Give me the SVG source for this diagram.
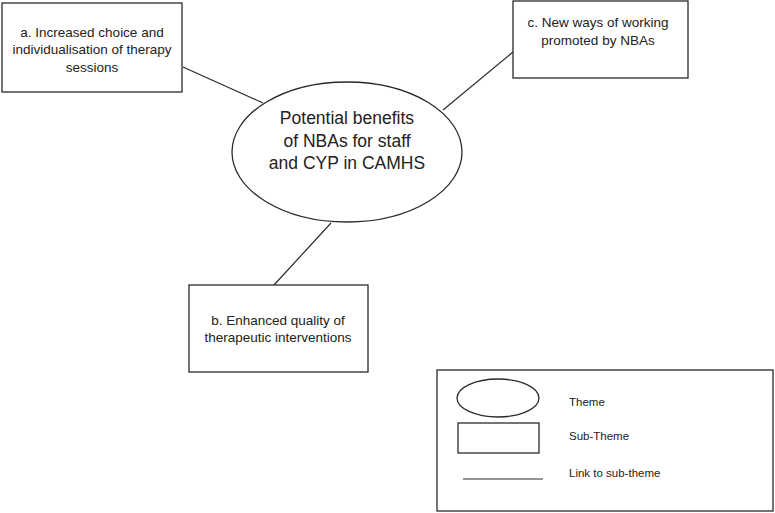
<svg xmlns="http://www.w3.org/2000/svg" width="775" height="513" viewBox="0 0 775 513">
  <style>
    .shape { fill: #ffffff; stroke: #2a2a2a; stroke-width: 1.3; }
    .link { stroke: #2a2a2a; stroke-width: 1.2; fill: none; }
    .lbl { font-family: "Liberation Sans", Arial, sans-serif; font-size: 13.5px; fill: #222; text-anchor: middle; dominant-baseline: central; }
    .theme { font-size: 17.5px; }
    .key { font-size: 11.5px; text-anchor: start; }
  </style>
  <rect width="775" height="513" fill="#ffffff"/>

  <g id="connectors">
    <line class="link" x1="183" y1="67" x2="263" y2="103"/>
    <line class="link" x1="443" y1="110" x2="513" y2="52"/>
    <line class="link" x1="331" y1="223" x2="274" y2="285"/>
  </g>

  <g id="theme">
    <ellipse class="shape" cx="347" cy="152" rx="115" ry="70"/>
    <text class="lbl theme" x="347" y="118">Potential benefits</text>
    <text class="lbl theme" x="347" y="141">of NBAs for staff</text>
    <text class="lbl theme" x="347" y="163">and CYP in CAMHS</text>
  </g>

  <g id="subtheme-a">
    <rect class="shape" x="2" y="3" width="180" height="89"/>
    <text class="lbl" x="92" y="32">a. Increased choice and</text>
    <text class="lbl" x="92" y="49">individualisation of therapy</text>
    <text class="lbl" x="92" y="67">sessions</text>
  </g>

  <g id="subtheme-b">
    <rect class="shape" x="189" y="285" width="179" height="87"/>
    <text class="lbl" x="278" y="320">b. Enhanced quality of</text>
    <text class="lbl" x="278" y="337">therapeutic interventions</text>
  </g>

  <g id="subtheme-c">
    <rect class="shape" x="513" y="1" width="175" height="77"/>
    <text class="lbl" x="598" y="22">c. New ways of working</text>
    <text class="lbl" x="598" y="40">promoted by NBAs</text>
  </g>

  <g id="legend">
    <rect class="shape" x="437" y="370" width="336" height="141"/>
    <ellipse class="shape" cx="498" cy="398" rx="41" ry="19"/>
    <rect class="shape" x="458" y="423" width="81" height="30"/>
    <line class="link" x1="463" y1="479" x2="543" y2="479"/>
    <text class="lbl key" x="569" y="402">Theme</text>
    <text class="lbl key" x="569" y="436">Sub-Theme</text>
    <text class="lbl key" x="569" y="473">Link to sub-theme</text>
  </g>
</svg>
